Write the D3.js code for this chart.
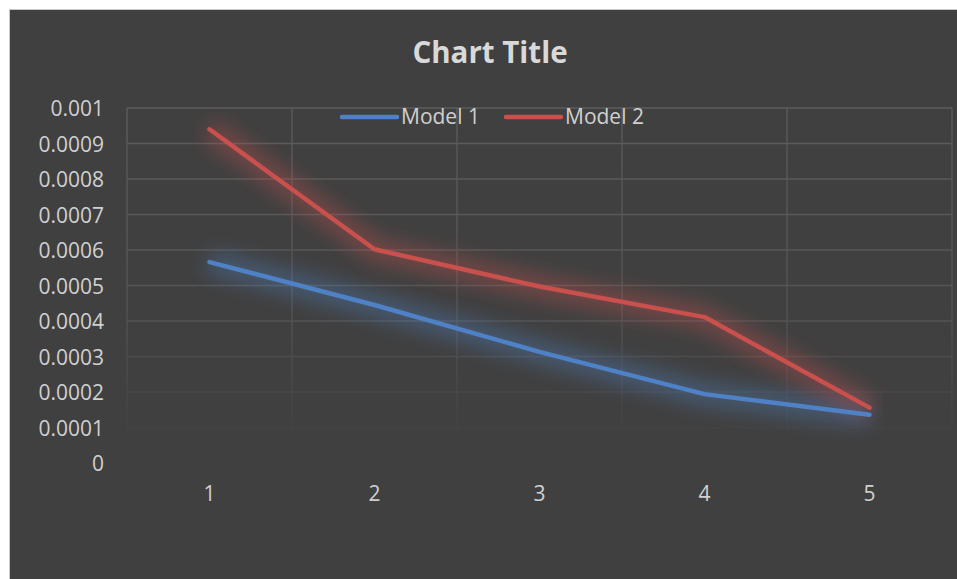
<!DOCTYPE html>
<html><head><meta charset="utf-8">
<script src="https://cdn.jsdelivr.net/npm/d3@7"></script>
<style>html,body{margin:0;padding:0;background:#fff;}svg{display:block;}</style>
</head><body>
<script>
const categories = ["1","2","3","4","5"];
const model1 = [0.000566, 0.000445, 0.000313, 0.000194, 0.000136];
const model2 = [0.00094, 0.000602, 0.000497, 0.000411, 0.000156];
const seriesNames = ["Model 1","Model 2"];
const seriesColors = ["#4f81c6","#c9504d"];
const yTicks = [0,0.0001,0.0002,0.0003,0.0004,0.0005,0.0006,0.0007,0.0008,0.0009,0.001];
const yTickLabels = ["0","0.0001","0.0002","0.0003","0.0004","0.0005","0.0006","0.0007","0.0008","0.0009","0.001"];
const title = "Chart Title";

const W=957,H=579;
const font="'Open Sans', 'Liberation Sans', sans-serif";
const svg=d3.select("body").append("svg").attr("width",W).attr("height",H);
const defs=svg.append("defs");
const m={left:127,right:952,top:108,bottom:463};

const x=d3.scaleBand().domain(categories).range([m.left,m.right]);
const y=d3.scaleLinear().domain([0,0.001]).range([m.bottom,m.top]);

const g1=defs.append("linearGradient").attr("id","gridFade").attr("gradientUnits","userSpaceOnUse")
  .attr("x1",0).attr("x2",0).attr("y1",m.top).attr("y2",m.bottom);
g1.append("stop").attr("offset",0).attr("stop-color","#5c5c5c");
g1.append("stop").attr("offset",0.55).attr("stop-color","#555555");
g1.append("stop").attr("offset",0.95).attr("stop-color","#404040");
g1.append("stop").attr("offset",1).attr("stop-color","#404040");

const blur=defs.append("filter").attr("id","glow").attr("x","-20%").attr("y","-60%").attr("width","140%").attr("height","220%");
blur.append("feGaussianBlur").attr("stdDeviation",10);

svg.append("rect").attr("x",9.5).attr("y",9.5).attr("width",W).attr("height",H)
  .attr("fill","#404040").attr("stroke","#c8c8c8").attr("stroke-width",1);

// gridlines
const grid=svg.append("g").attr("stroke","url(#gridFade)").attr("stroke-width",1.3).attr("fill","none");
yTicks.forEach(t=>{
  grid.append("line").attr("x1",m.left).attr("x2",m.right).attr("y1",y(t)).attr("y2",y(t));
});
const vLines=categories.map(c=>x(c)).concat([m.right]);
vLines.forEach(v=>{
  grid.append("line").attr("x1",v).attr("x2",v).attr("y1",m.top).attr("y2",m.bottom);
});

// y axis labels
const yAxis=d3.axisLeft(y).tickValues(yTicks).tickFormat((d,i)=>yTickLabels[i]).tickSize(0).tickPadding(23);
const ya=svg.append("g").attr("transform",`translate(${m.left},0)`).call(yAxis);
ya.select(".domain").remove();
ya.selectAll("text").attr("fill","#d0d0d0").style("font-family",font).style("font-size","21px").attr("dy","0.36em");

// x axis labels
const xAxis=d3.axisBottom(x).tickSize(0).tickPadding(23);
const xa=svg.append("g").attr("transform",`translate(0,${m.bottom})`).call(xAxis);
xa.select(".domain").remove();
xa.selectAll("text").attr("fill","#d0d0d0").style("font-family",font).style("font-size","21px");

// lines
const line=d3.line().x((d,i)=>x(categories[i])+x.bandwidth()/2).y(d=>y(d));
[model1,model2].forEach((s,k)=>{
  svg.append("path").datum(s).attr("d",line).attr("fill","none").attr("stroke",seriesColors[k])
    .attr("stroke-width",22).attr("stroke-opacity",0.4).attr("stroke-linejoin","round").attr("filter","url(#glow)");
});
[model1,model2].forEach((s,k)=>{
  svg.append("path").datum(s).attr("d",line).attr("fill","none").attr("stroke",seriesColors[k])
    .attr("stroke-width",4.5).attr("stroke-linejoin","round").attr("stroke-linecap","round");
});

// title
svg.append("text").attr("x",490).attr("y",63).attr("text-anchor","middle").attr("fill","#d9d9d9")
  .style("font-family",font).style("font-size","29.5px").style("font-weight","bold").text(title);

// legend
const legX=[342,506];
seriesNames.forEach((n,k)=>{
  const lg=svg.append("g").attr("transform",`translate(${legX[k]},117)`);
  lg.append("line").attr("x1",0).attr("x2",55).attr("stroke",seriesColors[k]).attr("stroke-width",4.5).attr("stroke-linecap","round");
  lg.append("text").attr("x",59).attr("y",7).attr("fill","#d0d0d0").style("font-family",font).style("font-size","21px").text(n);
});
</script>
</body></html>
